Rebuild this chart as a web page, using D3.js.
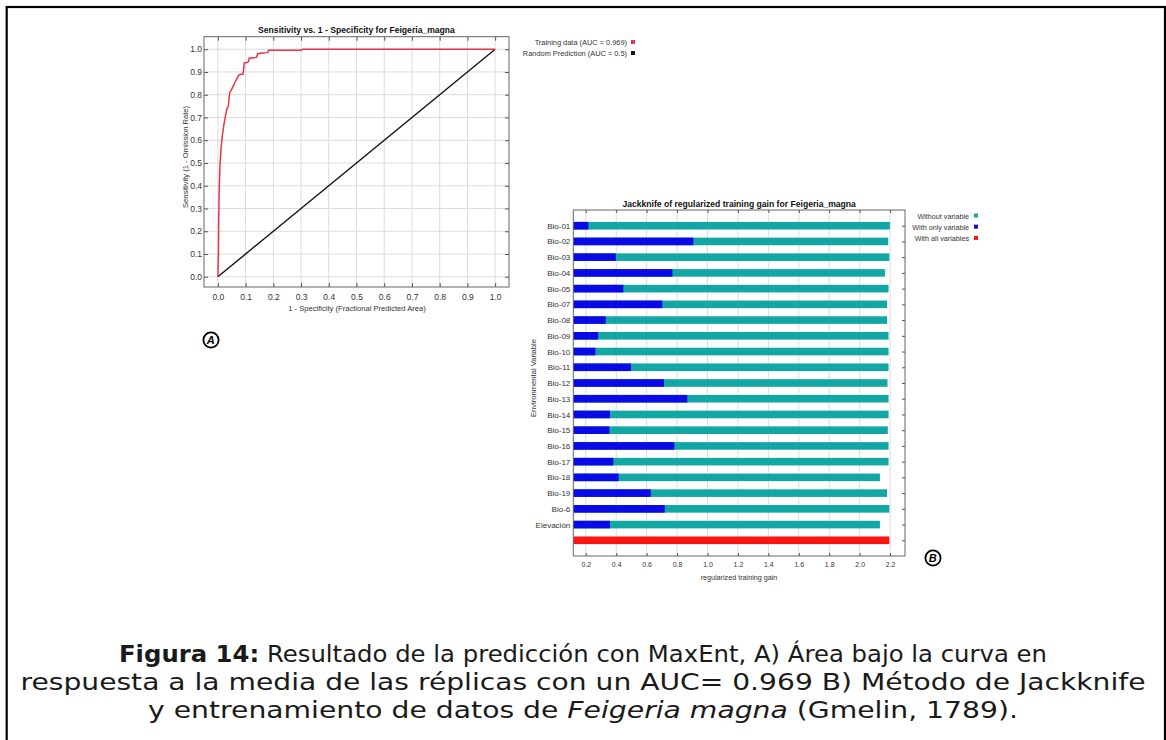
<!DOCTYPE html>
<html>
<head>
<meta charset="utf-8">
<script src="https://cdn.jsdelivr.net/npm/d3@7"></script>
<style>
  html, body { margin: 0; padding: 0; background: #fff; }
  svg { display: block; }
  text { font-family: "Liberation Sans", Arial, sans-serif; }
</style>
</head>
<body>
<svg id="fig" width="1166" height="740"></svg>
<script>
// ---------- DATA ----------
const rocTicks = [0.0, 0.1, 0.2, 0.3, 0.4, 0.5, 0.6, 0.7, 0.8, 0.9, 1.0];
const rocCurve = [
  [0, 0], [0.002, 0.1], [0.003, 0.25], [0.005, 0.4], [0.008, 0.5], [0.012, 0.57],
  [0.016, 0.62], [0.022, 0.67], [0.028, 0.71], [0.033, 0.74], [0.038, 0.75],
  [0.04, 0.78], [0.043, 0.81], [0.05, 0.825], [0.056, 0.84], [0.062, 0.855],
  [0.068, 0.87], [0.075, 0.885], [0.082, 0.89], [0.09, 0.89], [0.092, 0.9],
  [0.095, 0.94], [0.105, 0.942], [0.11, 0.945], [0.113, 0.96], [0.13, 0.962],
  [0.14, 0.965], [0.143, 0.98], [0.16, 0.983], [0.18, 0.985], [0.183, 0.995],
  [0.3, 0.995], [0.305, 1.0], [1.0, 1.0]
];
const randomPrediction = [[0, 0], [1, 1]];
const rocTitle = "Sensitivity vs. 1 - Specificity for Feigeria_magna";
const rocXLabel = "1 - Specificity  (Fractional Predicted Area)";
const rocYLabel = "Sensitivity (1 - Omission Rate)";
const rocLegend = ["Training data (AUC = 0.969)", "Random Prediction (AUC = 0.5)"];

const variables = ["Bio-01", "Bio-02", "Bio-03", "Bio-04", "Bio-05", "Bio-07", "Bio-08",
  "Bio-09", "Bio-10", "Bio-11", "Bio-12", "Bio-13", "Bio-14", "Bio-15", "Bio-16",
  "Bio-17", "Bio-18", "Bio-19", "Bio-6", "Elevación"];
const withoutVariable = [2.199, 2.188, 2.195, 2.166, 2.19, 2.18, 2.18, 2.19, 2.19, 2.19,
  2.183, 2.19, 2.19, 2.185, 2.19, 2.19, 2.133, 2.18, 2.195, 2.133];
const withOnlyVariable = [0.217, 0.907, 0.397, 0.769, 0.447, 0.703, 0.331, 0.281, 0.263,
  0.497, 0.714, 0.867, 0.359, 0.355, 0.782, 0.381, 0.416, 0.627, 0.719, 0.359];
const withAllVariables = 2.195;
const gainTicks = [0.2, 0.4, 0.6, 0.8, 1.0, 1.2, 1.4, 1.6, 1.8, 2.0, 2.2];
const jackTitle = "Jackknife of regularized training gain for Feigeria_magna";
const jackXLabel = "regularized training gain";
const jackYLabel = "Environmental Variable";
const jackLegend = ["Without variable", "With only variable", "With all variables"];

const captionLines = [
  [{t: "Figura 14:", b: true}, {t: " Resultado de la predicción con MaxEnt, A) Área bajo la curva en"}],
  [{t: "respuesta a la media de las réplicas con un AUC= 0.969 B) Método de Jackknife"}],
  [{t: "y entrenamiento de datos de "}, {t: "Feigeria magna", i: true}, {t: " (Gmelin, 1789)."}]
];

// ---------- STYLE ----------
const C = {
  frame: "#666", grid: "#dcdcdc", tick: "#555", label: "#333",
  roc: "#ee3344", rand: "#111",
  teal: "#12a6a4", blue: "#0a0ae6", red: "#ff1414"
};

const svg = d3.select("#fig");

// page border
svg.append("rect").attr("x", 6.7).attr("y", 7).attr("width", 1158.3).attr("height", 760)
  .attr("fill", "none").attr("stroke", "#000").attr("stroke-width", 2.2);

// ---------- ROC CHART ----------
const R = {l: 204, t: 36.7, r: 509, b: 287};
const rx = d3.scaleLinear().domain([-0.05, 1.05]).range([R.l, R.r]);
const ry = d3.scaleLinear().domain([-0.045, 1.055]).range([R.b, R.t]);
const g1 = svg.append("g");

g1.selectAll("line.vg").data(rocTicks).join("line")
  .attr("x1", d => rx(d)).attr("x2", d => rx(d)).attr("y1", R.t).attr("y2", R.b)
  .attr("stroke", C.grid).attr("stroke-width", 1);
g1.selectAll("line.hg").data(rocTicks).join("line")
  .attr("y1", d => ry(d)).attr("y2", d => ry(d)).attr("x1", R.l).attr("x2", R.r)
  .attr("stroke", C.grid).attr("stroke-width", 1);

function styleAxis(sel, fs) {
  sel.select(".domain").remove();
  sel.selectAll(".tick line").attr("stroke", C.tick);
  sel.selectAll(".tick text").attr("fill", C.label).style("font-size", fs + "px")
    .style("font-family", "'Liberation Sans', Arial, sans-serif");
}
const f1 = d3.format(".1f");
g1.append("g").attr("transform", `translate(0,${R.b})`)
  .call(d3.axisBottom(rx).tickValues(rocTicks).tickSize(-4).tickPadding(7).tickFormat(f1))
  .call(s => styleAxis(s, 8.5));
g1.append("g").attr("transform", `translate(${R.l},0)`)
  .call(d3.axisLeft(ry).tickValues(rocTicks).tickSize(-4).tickPadding(2).tickFormat(f1))
  .call(s => styleAxis(s, 8.5));
g1.append("g").attr("transform", `translate(0,${R.t})`)
  .call(d3.axisTop(rx).tickValues(rocTicks).tickSize(-4).tickFormat(""))
  .call(s => styleAxis(s, 8));
g1.append("g").attr("transform", `translate(${R.r},0)`)
  .call(d3.axisRight(ry).tickValues(rocTicks).tickSize(-4).tickFormat(""))
  .call(s => styleAxis(s, 8));

const line = d3.line().x(d => rx(d[0])).y(d => ry(d[1]));
g1.append("path").datum(randomPrediction).attr("d", line)
  .attr("fill", "none").attr("stroke", C.rand).attr("stroke-width", 1.4);
g1.append("path").datum(rocCurve).attr("d", line)
  .attr("fill", "none").attr("stroke", C.roc).attr("stroke-width", 1.5);

g1.append("rect").attr("x", R.l).attr("y", R.t).attr("width", R.r - R.l).attr("height", R.b - R.t)
  .attr("fill", "none").attr("stroke", C.frame).attr("stroke-width", 1);

g1.append("text").attr("x", (R.l + R.r) / 2).attr("y", 33).attr("text-anchor", "middle")
  .style("font-size", "8.6px").style("font-weight", "bold").attr("fill", "#111").text(rocTitle);
g1.append("text").attr("x", 357).attr("y", 310.5).attr("text-anchor", "middle")
  .style("font-size", "7.6px").attr("fill", C.label).text(rocXLabel);
g1.append("text").attr("transform", `translate(188,157) rotate(-90)`).attr("text-anchor", "middle")
  .style("font-size", "7.6px").attr("fill", C.label).text(rocYLabel);

const rocLegColors = [C.roc, C.rand];
rocLegend.forEach((t, i) => {
  const yy = 45 + i * 11;
  g1.append("text").attr("x", 627).attr("y", yy).attr("text-anchor", "end")
    .style("font-size", "7.4px").attr("fill", C.label).text(t);
  g1.append("rect").attr("x", 631).attr("y", yy - 5).attr("width", 4).attr("height", 4)
    .attr("fill", rocLegColors[i]);
});

// ---------- JACKKNIFE CHART ----------
const J = {l: 573.3, t: 210, r: 905, b: 556};
const rows = variables.concat(["__all"]);
const jx = d3.scaleLinear().domain([0.118, 2.298]).range([J.l, J.r]);
const jy = d3.scalePoint().domain(rows).range([225.7, 540.3]);
const g2 = svg.append("g");
const barH = 7.6;

g2.selectAll("line.vg").data(gainTicks).join("line")
  .attr("x1", d => jx(d)).attr("x2", d => jx(d)).attr("y1", J.t).attr("y2", J.b)
  .attr("stroke", C.grid).attr("stroke-width", 1);

g2.append("g").attr("transform", `translate(0,${J.b})`)
  .call(d3.axisBottom(jx).tickValues(gainTicks).tickSize(-3).tickPadding(6).tickFormat(f1))
  .call(s => styleAxis(s, 7));
g2.append("g").attr("transform", `translate(0,${J.t})`)
  .call(d3.axisTop(jx).tickValues(gainTicks).tickSize(-3).tickFormat(""))
  .call(s => styleAxis(s, 7));
g2.append("g").attr("transform", `translate(${J.l},0)`)
  .call(d3.axisLeft(jy).tickSize(-3).tickPadding(3).tickFormat(d => d === "__all" ? "" : d))
  .call(s => styleAxis(s, 8));
g2.append("g").attr("transform", `translate(${J.r},0)`)
  .call(d3.axisRight(jy).tickSize(-3).tickFormat(""))
  .call(s => styleAxis(s, 8));

const x0 = jx(jx.domain()[0]);
g2.selectAll("rect.wo").data(variables).join("rect")
  .attr("x", x0).attr("y", d => jy(d) - barH / 2)
  .attr("width", (d, i) => jx(withoutVariable[i]) - x0).attr("height", barH)
  .attr("fill", C.teal);
g2.selectAll("rect.wi").data(variables).join("rect")
  .attr("x", x0).attr("y", d => jy(d) - barH / 2)
  .attr("width", (d, i) => jx(withOnlyVariable[i]) - x0).attr("height", barH)
  .attr("fill", C.blue);
g2.append("rect").attr("x", x0).attr("y", jy("__all") - barH / 2)
  .attr("width", jx(withAllVariables) - x0).attr("height", barH).attr("fill", C.red);

g2.append("rect").attr("x", J.l).attr("y", J.t).attr("width", J.r - J.l).attr("height", J.b - J.t)
  .attr("fill", "none").attr("stroke", C.frame).attr("stroke-width", 1);

g2.append("text").attr("x", (J.l + J.r) / 2).attr("y", 207).attr("text-anchor", "middle")
  .style("font-size", "8.6px").style("font-weight", "bold").attr("fill", "#111").text(jackTitle);
g2.append("text").attr("x", 739).attr("y", 580).attr("text-anchor", "middle")
  .style("font-size", "7.2px").attr("fill", C.label).text(jackXLabel);
g2.append("text").attr("transform", `translate(536,378) rotate(-90)`).attr("text-anchor", "middle")
  .style("font-size", "7.6px").attr("fill", C.label).text(jackYLabel);

const jackLegColors = [C.teal, C.blue, C.red];
jackLegend.forEach((t, i) => {
  const yy = 218.5 + i * 11.2;
  g2.append("text").attr("x", 969).attr("y", yy).attr("text-anchor", "end")
    .style("font-size", "7.2px").attr("fill", C.label).text(t);
  g2.append("rect").attr("x", 974).attr("y", yy - 5).attr("width", 4).attr("height", 4)
    .attr("fill", jackLegColors[i]);
});

// ---------- circled panel letters ----------
[["A", 211, 340], ["B", 933, 558]].forEach(([t, cx, cy]) => {
  svg.append("circle").attr("cx", cx).attr("cy", cy).attr("r", 7.6)
    .attr("fill", "#fff").attr("stroke", "#000").attr("stroke-width", 1.8);
  svg.append("text").attr("x", cx - 0.3).attr("y", cy + 4).attr("text-anchor", "middle")
    .style("font-size", "11px").style("font-weight", "bold").style("font-style", "italic")
    .attr("fill", "#000").text(t);
});

// ---------- caption ----------
const capY = [662, 690, 718];
const capW = [928, 1125, 870];
const capFS = 23.4;
const capG = svg.append("g");
captionLines.forEach((parts, li) => {
  const tx = capG.append("text").attr("x", 583).attr("y", capY[li]).attr("text-anchor", "middle")
    .style("font-family", "'DejaVu Sans', sans-serif").style("font-size", capFS + "px")
    .attr("fill", "#1a1a1a");
  parts.forEach(p => {
    tx.append("tspan").text(p.t)
      .style("font-weight", p.b ? "bold" : "normal")
      .style("font-style", p.i ? "italic" : "normal");
  });
  tx.attr("textLength", capW[li]).attr("lengthAdjust", "spacingAndGlyphs");
});
</script>
</body>
</html>
